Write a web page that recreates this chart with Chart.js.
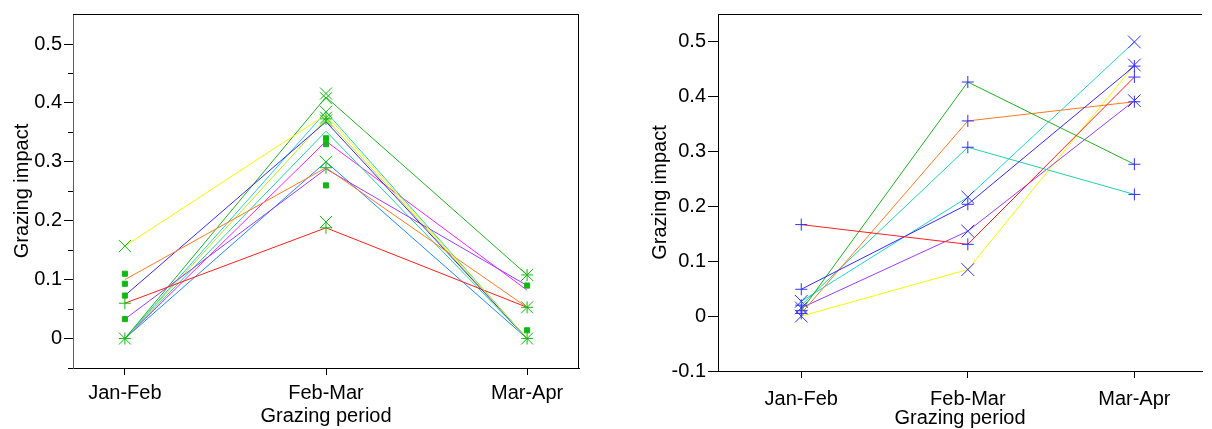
<!DOCTYPE html>
<html lang="en">
<head>
<meta charset="UTF-8">
<title>Grazing impact by period</title>
<script src="https://cdn.jsdelivr.net/npm/chart.js"></script>
<style>
  body { margin: 0; background: #fff; }
  .panel { position: absolute; top: 0; height: 429px; }
  #left { left: 0; width: 600px; }
  #right { left: 600px; width: 612px; }
</style>
</head>
<body>
<div class="panel" id="left"><canvas id="chartLeft"></canvas></div>
<div class="panel" id="right"><canvas id="chartRight"></canvas></div>
<script>
const periods = ['Jan-Feb', 'Feb-Mar', 'Mar-Apr'];

// left panel - one line per group (Jan-Feb, Feb-Mar, Mar-Apr)
const leftColors = ['#f8f800', '#ff7a22', '#3a28ff', '#ff1e1e', '#9a3cff', '#22b022',
                    '#22d0dc', '#c4e41e', '#22d2a0', '#ff22ff', '#2288ff'];
const leftValues = [
  [0.157, 0.380, 0],
  [0.100, 0.290, 0.053],
  [0.073, 0.368, 0],
  [0.060, 0.188, 0.053],
  [0.033, 0.288, 0.090],
  [0, 0.410, 0.108],
  [0, 0.385, 0],
  [0, 0.373, 0],
  [0, 0.352, 0],
  [0, 0.335, 0.082],
  [0, 0.300, 0]
];
// left panel markers, listed per period
const leftXMarks = [[0.157, 0], [0.416, 0.408, 0.385, 0.375, 0.370, 0.300, 0.198], [0.108, 0.053, 0]];
const leftPlusMarks = [[0.060, 0], [0.373, 0.290, 0.188], [0.108, 0.053, 0]];
const leftSquareMarks = [[0.110, 0.093, 0.073, 0.033], [0.340, 0.330, 0.260], [0.090, 0.014]];
const leftYTicks = [0, 0.1, 0.2, 0.3, 0.4, 0.5];
const leftMinorTicks = [-0.05, 0.05, 0.15, 0.25, 0.35, 0.45];

// right panel
const rightColors = ['#ff1e1e', '#3a28ff', '#22b022', '#ff7a22', '#22d2a0', '#22d0dc', '#9a3cff', '#f8f800'];
const rightMarkers = ['cross', 'cross', 'cross', 'cross', 'cross', 'crossRot', 'crossRot', 'crossRot'];
const rightValues = [
  [0.167, 0.131, 0.436],
  [0.049, 0.204, 0.456],
  [0.010, 0.427, 0.277],
  [0.005, 0.356, 0.391],
  [0.020, 0.308, 0.222],
  [0.027, 0.217, 0.500],
  [0.015, 0.155, 0.393],
  [0, 0.085, 0.458]
];
const rightYTicks = [-0.1, 0, 0.1, 0.2, 0.3, 0.4, 0.5];

const FONT = "'Liberation Sans', Arial, sans-serif";
const markGreen = '#12b812';
const markBlue = '#3030ff';

const framePlugin = {
  id: 'frame',
  afterDraw(chart, args, opts) {
    const {ctx, chartArea: a} = chart;
    ctx.save();
    ctx.strokeStyle = '#000';
    ctx.lineWidth = 1;
    ctx.beginPath();
    ctx.moveTo(a.left, a.top + 0.5);
    ctx.lineTo(a.right, a.top + 0.5);
    if (opts.right) {
      ctx.moveTo(a.right - 0.5, a.top);
      ctx.lineTo(a.right - 0.5, a.bottom);
    }
    if (opts.minor) {
      const y = chart.scales.y;
      opts.minor.forEach(v => {
        const p = Math.round(y.getPixelForValue(v)) + 0.5;
        ctx.moveTo(a.left - 5, p);
        ctx.lineTo(a.left, p);
      });
    }
    ctx.stroke();
    ctx.restore();
  }
};

function pts(vals) {
  return vals.map((v, i) => ({x: i, y: v}));
}

function markPts(perPeriod) {
  let out = [];
  perPeriod.forEach((list, i) => list.forEach(v => out.push({x: i, y: v})));
  return out;
}

function fmt(v) {
  if (Math.abs(v) < 1e-9) return '0';
  return v.toFixed(1);
}

function buildOptions(cfg) {
  return {
    responsive: true,
    maintainAspectRatio: false,
    animation: false,
    layout: { padding: { top: 14, right: cfg.padRight, left: 0, bottom: 0 } },
    plugins: {
      legend: { display: false },
      tooltip: { enabled: false },
      frame: { right: cfg.frameRight, minor: cfg.minor }
    },
    scales: {
      x: {
        type: 'linear',
        min: cfg.xMin,
        max: cfg.xMax,
        afterBuildTicks: s => { s.ticks = periods.map((p, i) => ({value: i})); },
        afterFit: s => { s.height = cfg.xHeight; },
        ticks: {
          callback: v => periods[v],
          font: { family: FONT, size: 20 },
          color: '#000',
          padding: cfg.xTickPad,
          maxRotation: 0,
          autoSkip: false
        },
        grid: { drawOnChartArea: false, color: '#000', tickLength: 7 },
        border: { color: '#000' },
        title: {
          display: true,
          text: 'Grazing period',
          font: { family: FONT, size: 20, lineHeight: 1 },
          color: '#000',
          padding: { top: 0, bottom: cfg.xTitlePad }
        }
      },
      y: {
        min: cfg.yMin,
        max: 0.551,
        afterBuildTicks: s => { s.ticks = cfg.yTicks.map(v => ({value: v})); },
        afterFit: s => { s.width = cfg.yWidth; },
        ticks: {
          callback: v => fmt(v),
          font: { family: FONT, size: 20 },
          color: '#000',
          padding: 2
        },
        grid: { drawOnChartArea: false, color: '#000', tickLength: cfg.yTick },
        border: { color: cfg.yBorder },
        title: {
          display: true,
          text: 'Grazing impact',
          font: { family: FONT, size: 20 },
          color: '#000',
          padding: { top: cfg.yTitlePad, bottom: 0 }
        }
      }
    }
  };
}

// left chart
const leftSets = leftValues.map((vals, i) => ({
  data: pts(vals),
  borderColor: leftColors[i],
  borderWidth: 1,
  pointRadius: 0,
  showLine: true,
  order: 2
}));
leftSets.push({
  data: markPts(leftXMarks), showLine: false, pointStyle: 'crossRot', pointRadius: 8.5,
  pointBorderColor: markGreen, pointBorderWidth: 1, order: 0
});
leftSets.push({
  data: markPts(leftPlusMarks), showLine: false, pointStyle: 'cross', pointRadius: 6,
  pointBorderColor: markGreen, pointBorderWidth: 1, order: 0
});
leftSets.push({
  data: markPts(leftSquareMarks), showLine: false, pointStyle: 'rect', pointRadius: 3.6,
  pointBorderColor: markGreen, pointBackgroundColor: markGreen, pointBorderWidth: 1, order: 0
});

new Chart(document.getElementById('chartLeft'), {
  type: 'scatter',
  data: { datasets: leftSets },
  options: buildOptions({
    padRight: 21, frameRight: true, minor: leftMinorTicks,
    xMin: -0.258, xMax: 2.258, xHeight: 61, xTickPad: 6, xTitlePad: 3,
    yMin: -0.05, yTicks: leftYTicks, yWidth: 73, yTick: 9, yBorder: '#606060', yTitlePad: 10
  }),
  plugins: [framePlugin]
});

// right chart
const rightSets = rightValues.map((vals, i) => ({
  data: pts(vals),
  borderColor: rightColors[i],
  borderWidth: 1,
  showLine: true,
  pointStyle: rightMarkers[i],
  pointRadius: rightMarkers[i] === 'cross' ? 6 : 9,
  pointBorderColor: markBlue,
  pointBackgroundColor: markBlue,
  pointBorderWidth: 1
}));

new Chart(document.getElementById('chartRight'), {
  type: 'scatter',
  data: { datasets: rightSets },
  options: buildOptions({
    padRight: 0, frameRight: false, minor: null,
    xMin: -0.5, xMax: 2.406, xHeight: 58, xTickPad: 9, xTitlePad: 1,
    yMin: -0.1, yTicks: rightYTicks, yWidth: 118, yTick: 10, yBorder: '#000', yTitlePad: 48
  }),
  plugins: [framePlugin]
});
</script>
</body>
</html>
